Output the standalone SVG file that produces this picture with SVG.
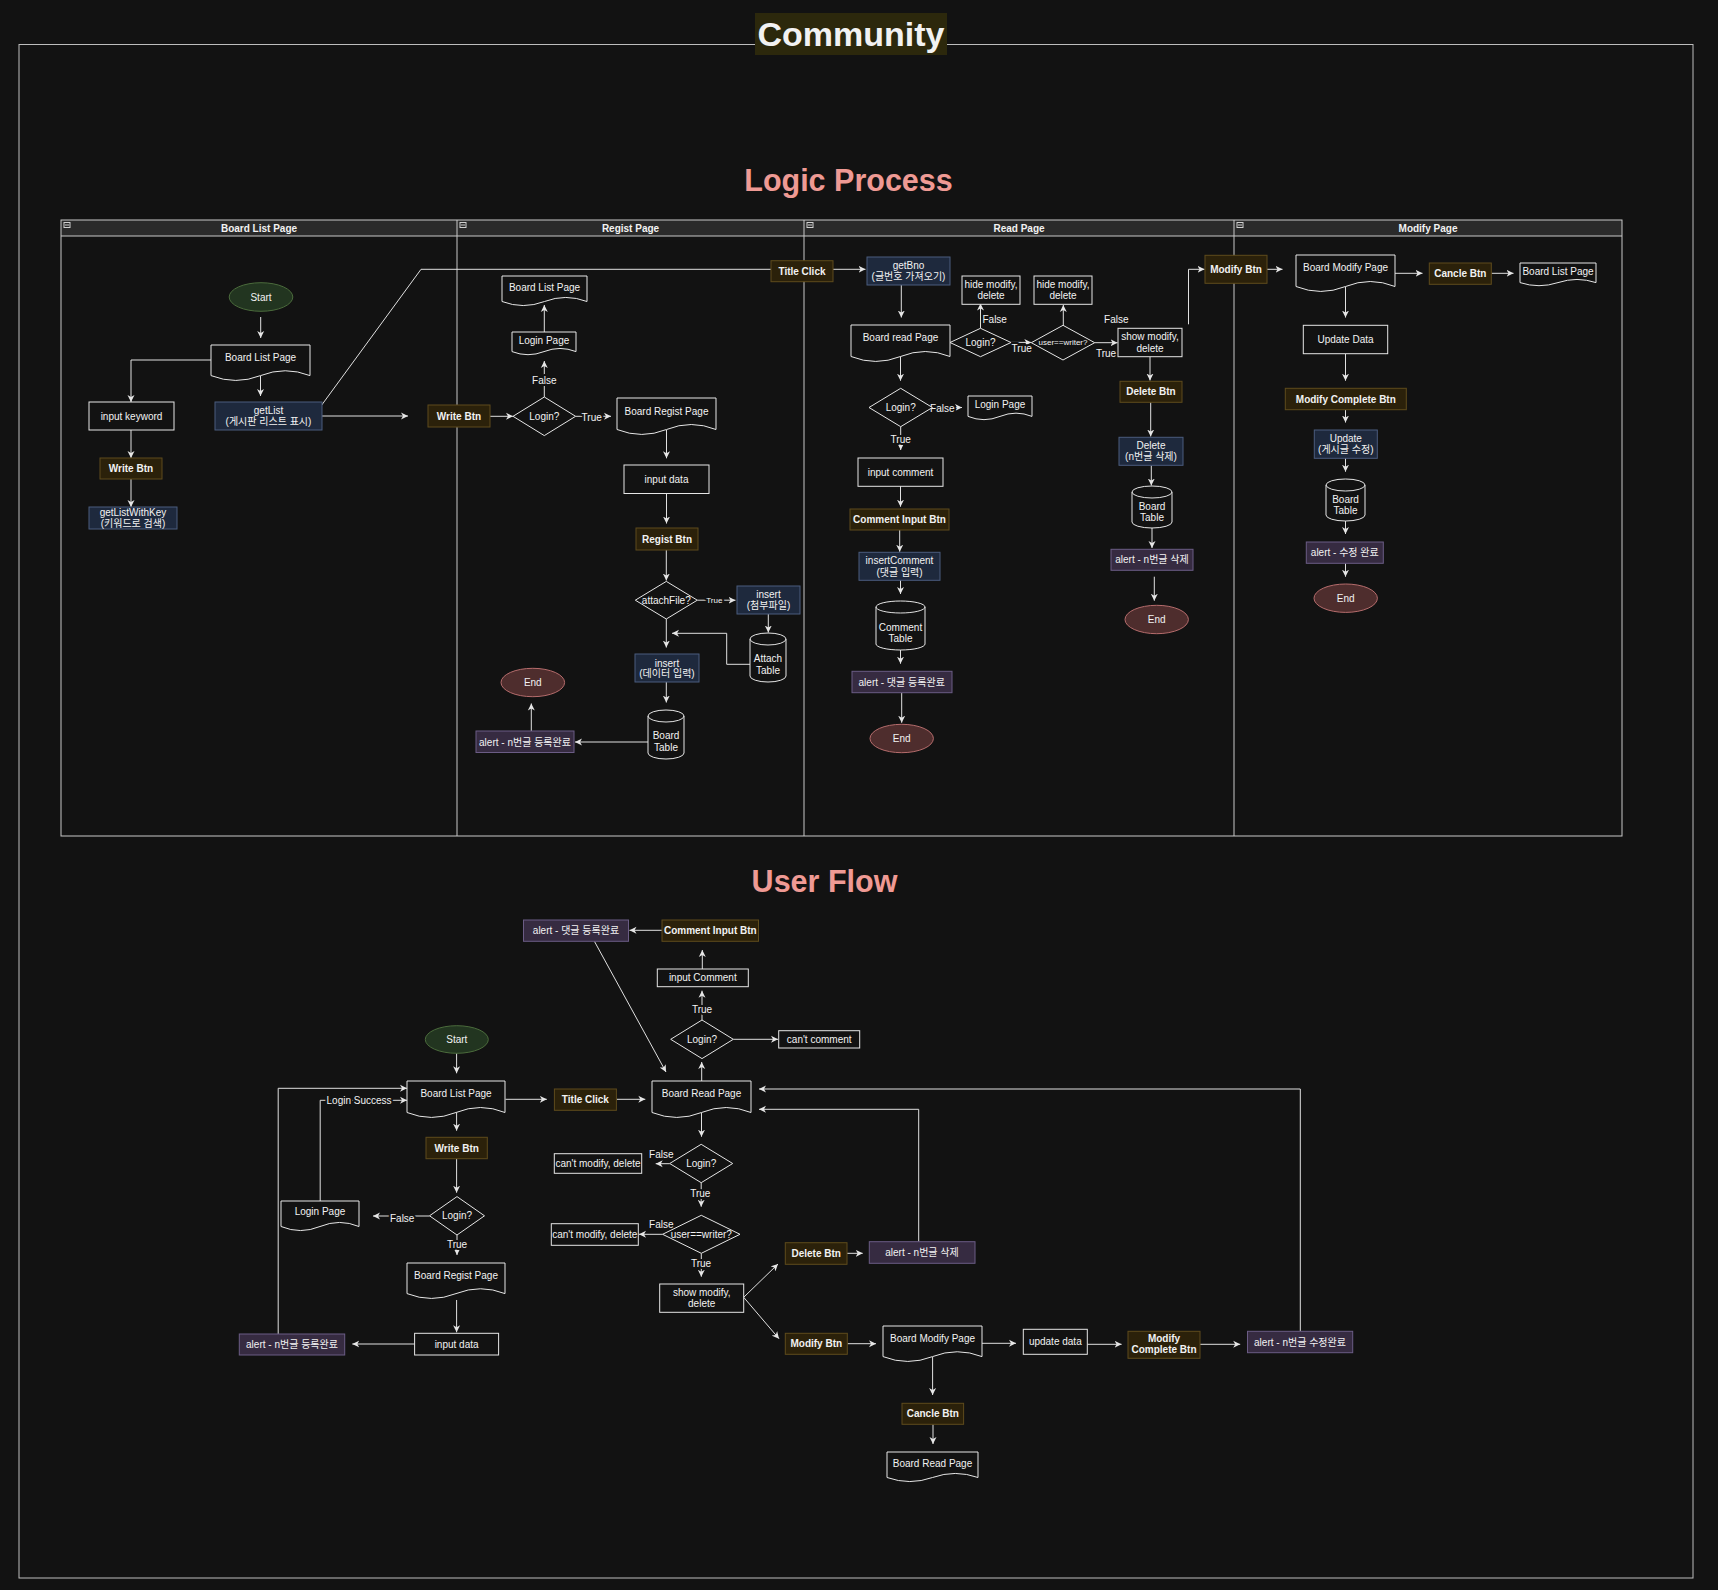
<svg xmlns="http://www.w3.org/2000/svg" width="1718" height="1590" viewBox="0 0 1718 1590">
<defs>
<style>
text{font-family:"Liberation Sans","Noto Sans CJK KR",Arial,sans-serif;fill:#f2f2f2;}
.t{font-size:10px;text-anchor:middle;dominant-baseline:central;}
.m{font-size:10px;text-anchor:middle;}
.b{font-weight:bold;}
.s8{font-size:8px;}
.lbl{paint-order:stroke;stroke:#121212;stroke-width:4px;stroke-linejoin:round;}
.n{fill:#121212;stroke:#e6e6e6;stroke-width:1;}
.btn{fill:#2b210a;stroke:#5e4b1c;stroke-width:1;}
.blue{fill:#1e293d;stroke:#4a5c7e;stroke-width:1;}
.al{fill:#362b41;stroke:#6b5c85;stroke-width:1;}
.st{fill:#223520;stroke:#4b6b3c;stroke-width:1;}
.en{fill:#4e2d2d;stroke:#b56c6c;stroke-width:1;}
.c{fill:none;stroke:#e0e0e0;stroke-width:1;}
.a{marker-end:url(#arr);}
.lane{fill:none;stroke:#c8c8c8;stroke-width:1;}
.ico{fill:none;stroke:#d0d0d0;stroke-width:1;}
</style>
<marker id="arr" markerUnits="userSpaceOnUse" markerWidth="9" markerHeight="8" refX="7" refY="4" orient="auto"><path d="M0,0.5L7,4L0,7.5L2,4Z" fill="#e6e6e6"/></marker>
</defs>
<rect x="0" y="0" width="1718" height="1590" fill="#121212"/>
<rect x="19" y="44.5" width="1674" height="1533.5" fill="none" stroke="#bdbdbd" stroke-width="1"/>
<g id="title">
<rect x="755" y="13" width="192" height="42" fill="#2c280c"/>
<text x="851" y="46" style="font-size:34px;font-weight:bold;text-anchor:middle;">Community</text>
</g>
<text id="logic-title" x="848.5" y="191" style="font-size:30.5px;font-weight:bold;text-anchor:middle;fill:#ef9a94;">Logic Process</text>
<text id="userflow-title" x="824.5" y="892" style="font-size:30.5px;font-weight:bold;text-anchor:middle;fill:#ef9a94;">User Flow</text>

<g id="swimlanes">
<rect x="61" y="220" width="1561" height="16" fill="#2a2a2a"/>
<rect class="lane" x="61" y="220" width="1561" height="616"/>
<line class="lane" x1="61" y1="236" x2="1622" y2="236"/>
<line class="lane" x1="457" y1="220" x2="457" y2="836"/>
<line class="lane" x1="804" y1="220" x2="804" y2="836"/>
<line class="lane" x1="1234" y1="220" x2="1234" y2="836"/>
<rect class="ico" x="64" y="222.5" width="6" height="5"/><line class="ico" x1="65" y1="225" x2="69" y2="225"/>
<rect class="ico" x="460" y="222.5" width="6" height="5"/><line class="ico" x1="461" y1="225" x2="465" y2="225"/>
<rect class="ico" x="807" y="222.5" width="6" height="5"/><line class="ico" x1="808" y1="225" x2="812" y2="225"/>
<rect class="ico" x="1237" y="222.5" width="6" height="5"/><line class="ico" x1="1238" y1="225" x2="1242" y2="225"/>
<text class="t b" x="259" y="228.5">Board List Page</text>
<text class="t b" x="630.5" y="228.5">Regist Page</text>
<text class="t b" x="1019" y="228.5">Read Page</text>
<text class="t b" x="1428" y="228.5">Modify Page</text>
</g>

<g id="connectors">
<path class="c a" d="M260.7,317V338"/>
<path class="c a" d="M211,360H131V402"/>
<path class="c a" d="M260.5,376V396"/>
<path class="c a" d="M131,430V458"/>
<path class="c a" d="M131,479V507"/>
<path class="c a" d="M322,416H408"/>
<path class="c" d="M321,406L421,269.3H771"/>
<path class="c a" d="M490,416.3H513"/>
<path class="c a" d="M544.3,397V361"/>
<path class="c a" d="M544.3,332V305"/>
<path class="c a" d="M575.6,416.3H611"/>
<path class="c a" d="M666.5,430V458.3"/>
<path class="c a" d="M666.5,493.5V523.5"/>
<path class="c a" d="M666.3,550V580.5"/>
<path class="c a" d="M697.3,600.2H735.5"/>
<path class="c a" d="M768.3,614V632.5"/>
<path class="c a" d="M750,664.3H726.7V633.3H672"/>
<path class="c a" d="M666.3,619V647.5"/>
<path class="c a" d="M666.3,682V702.5"/>
<path class="c a" d="M648,742H575"/>
<path class="c a" d="M531.3,731V703.5"/>
<path class="c a" d="M833,269.3H865.5"/>
<path class="c a" d="M901.3,285V317.5"/>
<path class="c a" d="M900.5,356.5V380.7"/>
<path class="c a" d="M932.4,407.5H962"/>
<path class="c a" d="M900.7,426.7V450"/>
<path class="c a" d="M900.5,486V506.7"/>
<path class="c a" d="M899.7,530V551.7"/>
<path class="c a" d="M900.5,580V594"/>
<path class="c a" d="M900.5,650V663.7"/>
<path class="c a" d="M901.7,693V722.7"/>
<path class="c a" d="M980.5,328.3V303.5"/>
<path class="c a" d="M1011,342.4H1031.3"/>
<path class="c a" d="M1063.3,325.3V305"/>
<path class="c a" d="M1094.7,342.7H1117.5"/>
<path class="c a" d="M1188.5,324.3V269.3H1204.5"/>
<path class="c a" d="M1150,357V380.5"/>
<path class="c a" d="M1150.7,402V436.5"/>
<path class="c a" d="M1151.3,465.3V485.5"/>
<path class="c a" d="M1152,528V548"/>
<path class="c a" d="M1154.3,576.7V600.7"/>
<path class="c a" d="M1267,269.3H1282.5"/>
<path class="c a" d="M1395,273.3H1422.5"/>
<path class="c a" d="M1491.3,273.3H1513.5"/>
<path class="c a" d="M1345.5,286.5V317.5"/>
<path class="c a" d="M1345.5,354V380.7"/>
<path class="c a" d="M1345.5,410V422.5"/>
<path class="c a" d="M1345.5,458V471.7"/>
<path class="c a" d="M1345.5,521V534"/>
<path class="c a" d="M1345.5,563.3V576.7"/>
<path class="c a" d="M662,930.3H629.5"/>
<path class="c a" d="M702.3,969V950"/>
<path class="c a" d="M702,1020V990.7"/>
<path class="c a" d="M733.3,1039.3H778"/>
<path class="c a" d="M594.4,941.3L666,1072"/>
<path class="c a" d="M456.6,1053.3V1073.3"/>
<path class="c a" d="M278.2,1334V1088.3H407"/>
<path class="c a" d="M320.2,1201V1100.3H407"/>
<path class="c a" d="M505.5,1099.3H546.8"/>
<path class="c a" d="M616.4,1099.3H645.3"/>
<path class="c a" d="M701.7,1081V1062"/>
<path class="c a" d="M701.5,1112.5V1136.7"/>
<path class="c a" d="M456.6,1112.5V1130.7"/>
<path class="c a" d="M456.6,1158.7V1192.7"/>
<path class="c a" d="M429.5,1216H373"/>
<path class="c a" d="M457,1235V1255"/>
<path class="c a" d="M456.6,1300V1332.3"/>
<path class="c a" d="M414.6,1344H352.3"/>
<path class="c a" d="M669.7,1163.7H655.7"/>
<path class="c a" d="M701.2,1182.7V1206.7"/>
<path class="c a" d="M662.6,1234.3H639"/>
<path class="c a" d="M701.3,1253.3V1276.7"/>
<path class="c a" d="M743.7,1297.3L778,1264"/>
<path class="c a" d="M743.7,1297.3L779,1338.7"/>
<path class="c a" d="M847,1253.3H862.7"/>
<path class="c a" d="M918.7,1241.7V1109.3H759"/>
<path class="c a" d="M1300.3,1331.3V1089H759"/>
<path class="c a" d="M847.2,1343.7H876"/>
<path class="c a" d="M982,1343.3H1016"/>
<path class="c a" d="M1087.2,1344.3H1121.6"/>
<path class="c a" d="M1200,1344.3H1240.2"/>
<path class="c a" d="M932.6,1357V1395"/>
<path class="c a" d="M933,1424.3V1444"/>
</g>

<g id="edge-labels">
<text class="t lbl" x="544.3" y="380.7">False</text>
<text class="t lbl" x="591.7" y="417">True</text>
<text class="t s8 lbl" x="714.3" y="600.3">True</text>
<text class="t lbl" x="942.3" y="408.3">False</text>
<text class="t lbl" x="900.7" y="439.3">True</text>
<text class="t lbl" x="994.7" y="319.7">False</text>
<text class="t lbl" x="1021.7" y="348.3">True</text>
<text class="t lbl" x="1106" y="353.3">True</text>
<text class="t lbl" x="1116.3" y="319.3">False</text>
<text class="t lbl" x="702" y="1009.3">True</text>
<text class="t lbl" x="359.1" y="1100.3">Login Success</text>
<text class="t lbl" x="402.2" y="1218.3">False</text>
<text class="t lbl" x="457" y="1244.3">True</text>
<text class="t lbl" x="661.3" y="1154.7">False</text>
<text class="t lbl" x="700.3" y="1193.7">True</text>
<text class="t lbl" x="661.3" y="1224.7">False</text>
<text class="t lbl" x="701" y="1263.3">True</text>
</g>

<g id="l1-start"><ellipse class="st" cx="261" cy="297" rx="31.8" ry="14.3"/><text class="t" x="261" y="297">Start</text></g>
<g id="l1-boardlist"><path class="n" d="M211,345H310V375.6Q285.25,365.9 260.5,375.6Q235.75,385.3 211,375.6Z"/><text class="t" x="260.5" y="357.3">Board List Page</text></g>
<g id="l1-getlist"><rect class="blue" x="215" y="402" width="107" height="28"/><text class="m"><tspan x="268.5" y="414">getList</tspan><tspan x="268.5" y="424.7">(게시판 리스트 표시)</tspan></text></g>
<g id="l1-inputkeyword"><rect class="n" x="89" y="402" width="85" height="28"/><text class="t" x="131.5" y="416">input keyword</text></g>
<g id="l1-writebtn"><rect class="btn" x="100" y="458" width="62" height="21"/><text class="t b" x="131" y="468.5">Write Btn</text></g>
<g id="l1-getlistwithkey"><rect class="blue" x="89" y="507" width="88" height="22"/><text class="m"><tspan x="133" y="515.5">getListWithKey</tspan><tspan x="133" y="526.8">(키워드로 검색)</tspan></text></g>

<g id="l2-writebtn"><rect class="btn" x="428" y="405" width="62" height="22"/><text class="t b" x="459" y="416">Write Btn</text></g>
<g id="l2-login"><polygon class="n" points="513,416.3 544.3,397 575.6,416.3 544.3,435.6"/><text class="t" x="544.3" y="416.3">Login?</text></g>
<g id="l2-loginpage"><path class="n" d="M512,332H576V351.6Q560,345.3 544,351.6Q528,357.8 512,351.6Z"/><text class="t" x="544" y="340.7">Login Page</text></g>
<g id="l2-boardlist"><path class="n" d="M502,276H587V301.5Q565.75,293.4 544.5,301.5Q523.25,309.6 502,301.5Z"/><text class="t" x="544.5" y="287.7">Board List Page</text></g>
<g id="l2-boardregist"><path class="n" d="M617,398H716V429.5Q691.25,419.5 666.5,429.5Q641.75,439.4 617,429.5Z"/><text class="t" x="666.5" y="411.7">Board Regist Page</text></g>
<g id="l2-inputdata"><rect class="n" x="624" y="465" width="85" height="28.5"/><text class="t" x="666.5" y="479.5">input data</text></g>
<g id="l2-registbtn"><rect class="btn" x="636" y="528" width="62" height="22"/><text class="t b" x="667" y="539">Regist Btn</text></g>
<g id="l2-attachfile"><polygon class="n" points="635.3,600.2 666.3,581.4 697.3,600.2 666.3,619"/><text class="t" x="666.3" y="600.2">attachFile?</text></g>
<g id="l2-insertattach"><rect class="blue" x="737" y="586" width="63" height="28"/><text class="m"><tspan x="768.5" y="598">insert</tspan><tspan x="768.5" y="609.2">(첨부파일)</tspan></text></g>
<g id="l2-attachtable"><path class="n" d="M750,639A18,6 0 0 1 786,639V676A18,6 0 0 1 750,676Z"/><path class="c" d="M750,639A18,6 0 0 0 786,639"/><text class="m"><tspan x="768" y="661.8">Attach</tspan><tspan x="768" y="673.5">Table</tspan></text></g>
<g id="l2-insertdata"><rect class="blue" x="635" y="654" width="64" height="28"/><text class="m"><tspan x="667" y="666.5">insert</tspan><tspan x="667" y="677">(데이터 입력)</tspan></text></g>
<g id="l2-boardtable"><path class="n" d="M648,716A18,6 0 0 1 684,716V753A18,6 0 0 1 648,753Z"/><path class="c" d="M648,716A18,6 0 0 0 684,716"/><text class="m"><tspan x="666" y="739.2">Board</tspan><tspan x="666" y="750.8">Table</tspan></text></g>
<g id="l2-alert"><rect class="al" x="476" y="731" width="98" height="21.5"/><text class="t" x="525" y="742">alert - n번글 등록완료</text></g>
<g id="l2-end"><ellipse class="en" cx="532.8" cy="682.5" rx="31.8" ry="14.2"/><text class="t" x="532.8" y="682.5">End</text></g>
<g id="l2-titleclick"><rect class="btn" x="771" y="260.7" width="62" height="21"/><text class="t b" x="802" y="271.2">Title Click</text></g>

<g id="l3-getbno"><rect class="blue" x="867" y="257" width="83" height="28"/><text class="m"><tspan x="908.5" y="269.2">getBno</tspan><tspan x="908.5" y="279.8">(글번호 가져오기)</tspan></text></g>
<g id="l3-boardread"><path class="n" d="M851,325H950V356.5Q925.25,346.5 900.5,356.5Q875.75,366.4 851,356.5Z"/><text class="t" x="900.5" y="337.7">Board read Page</text></g>
<g id="l3-login2"><polygon class="n" points="869,407.5 900.7,388.3 932.4,407.5 900.7,426.7"/><text class="t" x="900.7" y="407.5">Login?</text></g>
<g id="l3-loginpage"><path class="n" d="M968,396H1032V416.4Q1016,409.9 1000,416.4Q984,422.9 968,416.4Z"/><text class="t" x="1000" y="404.7">Login Page</text></g>
<g id="l3-inputcomment"><rect class="n" x="858" y="458" width="85" height="28.3"/><text class="t" x="900.5" y="472">input comment</text></g>
<g id="l3-commentbtn"><rect class="btn" x="850" y="509" width="99" height="21"/><text class="t b" x="899.5" y="519.3">Comment Input Btn</text></g>
<g id="l3-insertcomment"><rect class="blue" x="859" y="552.3" width="81" height="28"/><text class="m"><tspan x="899.5" y="564">insertComment</tspan><tspan x="899.5" y="575.5">(댓글 입력)</tspan></text></g>
<g id="l3-commenttable"><path class="n" d="M876,607A24.5,6 0 0 1 925,607V644A24.5,6 0 0 1 876,644Z"/><path class="c" d="M876,607A24.5,6 0 0 0 925,607"/><text class="m"><tspan x="900.5" y="630.8">Comment</tspan><tspan x="900.5" y="641.5">Table</tspan></text></g>
<g id="l3-alertcomment"><rect class="al" x="852" y="671.3" width="100" height="21.4"/><text class="t" x="901.7" y="682">alert - 댓글 등록완료</text></g>
<g id="l3-end1"><ellipse class="en" cx="901.7" cy="738.5" rx="31.7" ry="14.2"/><text class="t" x="901.7" y="738.5">End</text></g>
<g id="l3-login1"><polygon class="n" points="950,342.5 980.5,328.3 1011,342.5 980.5,356.7"/><text class="t" x="980.5" y="342.5">Login?</text></g>
<g id="l3-hide1"><rect class="n" x="962" y="276" width="58" height="28.3"/><text class="m"><tspan x="991" y="288.2">hide modify,</tspan><tspan x="991" y="298.8">delete</tspan></text></g>
<g id="l3-writer"><polygon class="n" points="1031.3,342.7 1063,325.3 1094.7,342.7 1063,360"/><text class="t s8" x="1063" y="342.7">user==writer?</text></g>
<g id="l3-hide2"><rect class="n" x="1034" y="276" width="58" height="28.3"/><text class="m"><tspan x="1063" y="288.2">hide modify,</tspan><tspan x="1063" y="298.8">delete</tspan></text></g>
<g id="l3-show"><rect class="n" x="1118" y="328.3" width="64" height="28.4"/><text class="m"><tspan x="1150" y="340.2">show modify,</tspan><tspan x="1150" y="351.8">delete</tspan></text></g>
<g id="l3-modifybtn"><rect class="btn" x="1205" y="255.3" width="62" height="28"/><text class="t b" x="1236" y="269.3">Modify Btn</text></g>
<g id="l3-deletebtn"><rect class="btn" x="1120" y="381.3" width="62" height="21"/><text class="t b" x="1151" y="391.8">Delete Btn</text></g>
<g id="l3-delete"><rect class="blue" x="1119" y="437.3" width="64" height="28"/><text class="m"><tspan x="1151" y="449.2">Delete</tspan><tspan x="1151" y="459.8">(n번글 삭제)</tspan></text></g>
<g id="l3-boardtable"><path class="n" d="M1132,492A20,6 0 0 1 1172,492V522A20,6 0 0 1 1132,522Z"/><path class="c" d="M1132,492A20,6 0 0 0 1172,492"/><text class="m"><tspan x="1152" y="509.5">Board</tspan><tspan x="1152" y="520.5">Table</tspan></text></g>
<g id="l3-alertdelete"><rect class="al" x="1111" y="549.3" width="82" height="21"/><text class="t" x="1152" y="559.8">alert - n번글 삭제</text></g>
<g id="l3-end2"><ellipse class="en" cx="1156.7" cy="619.5" rx="31.7" ry="14.2"/><text class="t" x="1156.7" y="619.5">End</text></g>

<g id="l4-boardmodify"><path class="n" d="M1296,255H1395V286.5Q1370.25,276.5 1345.5,286.5Q1320.75,296.4 1296,286.5Z"/><text class="t" x="1345.5" y="267.7">Board Modify Page</text></g>
<g id="l4-canclebtn"><rect class="btn" x="1429.3" y="263" width="62" height="21.3"/><text class="t b" x="1460.3" y="273.7">Cancle Btn</text></g>
<g id="l4-boardlist"><path class="n" d="M1520,263H1596V282.6Q1577,276.3 1558,282.6Q1539,288.8 1520,282.6Z"/><text class="t" x="1558" y="271.7">Board List Page</text></g>
<g id="l4-updatedata"><rect class="n" x="1303.3" y="325.3" width="84.4" height="28.4"/><text class="t" x="1345.5" y="339.5">Update Data</text></g>
<g id="l4-completebtn"><rect class="btn" x="1285.3" y="388.3" width="121" height="21.4"/><text class="t b" x="1345.8" y="399">Modify Complete Btn</text></g>
<g id="l4-update"><rect class="blue" x="1314.3" y="430" width="63" height="28.3"/><text class="m"><tspan x="1345.8" y="442.2">Update</tspan><tspan x="1345.8" y="452.8">(게시글 수정)</tspan></text></g>
<g id="l4-boardtable"><path class="n" d="M1326,485A19.5,6 0 0 1 1365,485V515A19.5,6 0 0 1 1326,515Z"/><path class="c" d="M1326,485A19.5,6 0 0 0 1365,485"/><text class="m"><tspan x="1345.5" y="502.8">Board</tspan><tspan x="1345.5" y="513.8">Table</tspan></text></g>
<g id="l4-alert"><rect class="al" x="1306.3" y="542" width="77" height="21.3"/><text class="t" x="1344.8" y="552.7">alert - 수정 완료</text></g>
<g id="l4-end"><ellipse class="en" cx="1345.7" cy="598.2" rx="31.7" ry="14.2"/><text class="t" x="1345.7" y="598.2">End</text></g>

<g id="uf-alertcomment"><rect class="al" x="523.5" y="920" width="105" height="21.3"/><text class="t" x="576" y="930.5">alert - 댓글 등록완료</text></g>
<g id="uf-commentbtn"><rect class="btn" x="662" y="920" width="96.5" height="21.3"/><text class="t b" x="710.3" y="930.5">Comment Input Btn</text></g>
<g id="uf-inputcomment"><rect class="n" x="657.3" y="969" width="91" height="17.7"/><text class="t" x="702.8" y="977.8">input Comment</text></g>
<g id="uf-login-top"><polygon class="n" points="670.7,1039.3 702,1020 733.3,1039.3 702,1058.6"/><text class="t" x="702" y="1039.3">Login?</text></g>
<g id="uf-cantcomment"><rect class="n" x="778.7" y="1030.7" width="81" height="17.3"/><text class="t" x="819.2" y="1039.3">can't comment</text></g>
<g id="uf-start"><ellipse class="st" cx="456.8" cy="1039.5" rx="31.5" ry="13.8"/><text class="t" x="456.8" y="1039.5">Start</text></g>
<g id="uf-boardlist"><path class="n" d="M407,1081H505V1112.5Q480.5,1102.5 456,1112.5Q431.5,1122.4 407,1112.5Z"/><text class="t" x="456" y="1093.7">Board List Page</text></g>
<g id="uf-titleclick"><rect class="btn" x="554.4" y="1089" width="62" height="21.3"/><text class="t b" x="585.4" y="1099.7">Title Click</text></g>
<g id="uf-boardread"><path class="n" d="M652,1081H751V1112.5Q726.25,1102.5 701.5,1112.5Q676.75,1122.4 652,1112.5Z"/><text class="t" x="701.5" y="1093.7">Board Read Page</text></g>
<g id="uf-writebtn"><rect class="btn" x="426" y="1137.3" width="61.3" height="21.4"/><text class="t b" x="456.7" y="1148">Write Btn</text></g>
<g id="uf-login-left"><polygon class="n" points="429.5,1215.8 457,1196.6 484.5,1215.8 457,1235"/><text class="t" x="457" y="1215.8">Login?</text></g>
<g id="uf-loginpage"><path class="n" d="M281,1201H359V1226.5Q339.5,1218.4 320,1226.5Q300.5,1234.6 281,1226.5Z"/><text class="t" x="320" y="1211.7">Login Page</text></g>
<g id="uf-boardregist"><path class="n" d="M407,1263H505V1293.6Q480.5,1283.9 456,1293.6Q431.5,1303.3 407,1293.6Z"/><text class="t" x="456" y="1275.7">Board Regist Page</text></g>
<g id="uf-inputdata"><rect class="n" x="414.6" y="1333.3" width="84" height="21.7"/><text class="t" x="456.6" y="1344.2">input data</text></g>
<g id="uf-alertregist"><rect class="al" x="239.3" y="1334" width="105.4" height="21"/><text class="t" x="292" y="1344.5">alert - n번글 등록완료</text></g>
<g id="uf-login-mid"><polygon class="n" points="669.7,1163.5 701.2,1144.3 732.7,1163.5 701.2,1182.7"/><text class="t" x="701.2" y="1163.5">Login?</text></g>
<g id="uf-cant1"><rect class="n" x="554.3" y="1153.7" width="87.4" height="19.6"/><text class="t" x="598" y="1163.5">can't modify, delete</text></g>
<g id="uf-writer"><polygon class="n" points="662.6,1234.3 701.3,1215.3 740,1234.3 701.3,1253.3"/><text class="t" x="701.3" y="1234.3">user==writer?</text></g>
<g id="uf-cant2"><rect class="n" x="551.3" y="1223.7" width="87" height="21.6"/><text class="t" x="594.8" y="1234.5">can't modify, delete</text></g>
<g id="uf-show"><rect class="n" x="659.7" y="1284" width="84" height="28.3"/><text class="m"><tspan x="701.7" y="1296">show modify,</tspan><tspan x="701.7" y="1307.2">delete</tspan></text></g>
<g id="uf-deletebtn"><rect class="btn" x="785.3" y="1242.7" width="61.7" height="21.6"/><text class="t b" x="816.2" y="1253.5">Delete Btn</text></g>
<g id="uf-alertdelete"><rect class="al" x="869.3" y="1241.7" width="105.7" height="21.6"/><text class="t" x="922" y="1252.5">alert - n번글 삭제</text></g>
<g id="uf-modifybtn"><rect class="btn" x="785.3" y="1333.3" width="62" height="21"/><text class="t b" x="816.3" y="1343.8">Modify Btn</text></g>
<g id="uf-boardmodify"><path class="n" d="M883,1326H982V1356.6Q957.25,1346.9 932.5,1356.6Q907.75,1366.3 883,1356.6Z"/><text class="t" x="932.5" y="1338.7">Board Modify Page</text></g>
<g id="uf-updatedata"><rect class="n" x="1023.3" y="1329.3" width="64" height="25"/><text class="t" x="1055.3" y="1341.8">update data</text></g>
<g id="uf-completebtn"><rect class="btn" x="1128" y="1331.3" width="72" height="27"/><text class="m b"><tspan x="1164" y="1342">Modify</tspan><tspan x="1164" y="1353">Complete Btn</tspan></text></g>
<g id="uf-alertmodify"><rect class="al" x="1247.5" y="1331.3" width="105.2" height="21.4"/><text class="t" x="1300" y="1342">alert - n번글 수정완료</text></g>
<g id="uf-canclebtn"><rect class="btn" x="902" y="1403.3" width="61.6" height="21"/><text class="t b" x="932.8" y="1413.8">Cancle Btn</text></g>
<g id="uf-boardread2"><path class="n" d="M887,1452H978V1477.5Q955.25,1469.4 932.5,1477.5Q909.75,1485.6 887,1477.5Z"/><text class="t" x="932.5" y="1463.7">Board Read Page</text></g>
</svg>
